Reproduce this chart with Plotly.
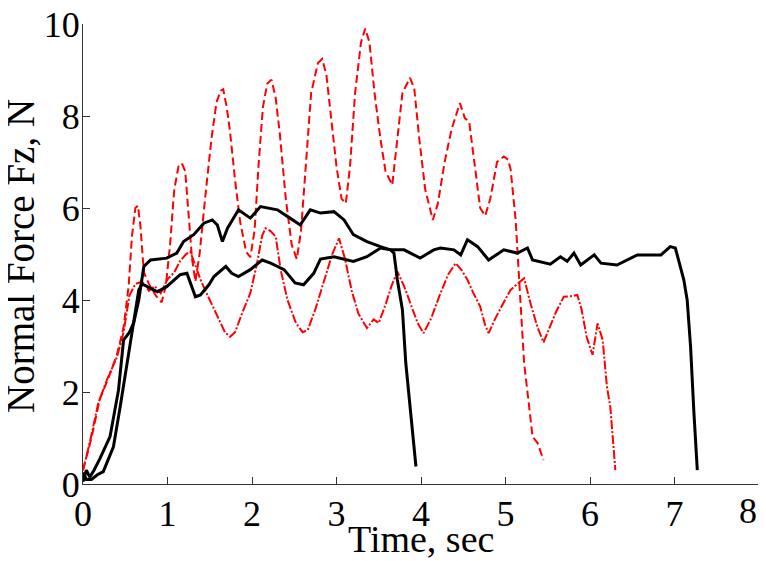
import plotly.graph_objects as go

# ---- data ----
red_big_t = [0.00, 0.10, 0.20, 0.30, 0.40, 0.48, 0.54, 0.58, 0.62, 0.65, 0.68, 0.72, 0.78, 0.86, 0.93,
             0.98, 1.03, 1.08, 1.13, 1.17, 1.21, 1.25, 1.29, 1.33, 1.38, 1.45, 1.52, 1.58, 1.63, 1.66,
             1.70, 1.74, 1.80, 1.86, 1.93, 1.98, 2.03, 2.08, 2.13, 2.18, 2.23, 2.28, 2.33, 2.40, 2.47,
             2.53, 2.58, 2.64, 2.70, 2.78, 2.83, 2.88, 2.94, 3.00, 3.06, 3.11, 3.16, 3.22, 3.29, 3.34,
             3.39, 3.45, 3.52, 3.58, 3.66, 3.72, 3.78, 3.87, 3.92, 3.98, 4.05, 4.14, 4.20, 4.28, 4.36,
             4.46, 4.52, 4.57, 4.64, 4.70, 4.76, 4.82, 4.90, 4.98, 5.03, 5.06, 5.12, 5.16, 5.19, 5.22,
             5.28, 5.32, 5.38, 5.45]
red_big_f = [0.30, 1.00, 1.85, 2.30, 2.80, 3.40, 4.30, 5.40, 6.00, 6.05, 5.60, 4.60, 4.35, 4.10, 3.95,
             4.30, 5.20, 6.40, 6.90, 6.97, 6.80, 5.80, 4.90, 4.40, 5.00, 6.30, 7.50, 8.30, 8.55, 8.58,
             8.20, 7.66, 6.60, 5.70, 5.05, 4.93, 5.50, 7.00, 8.20, 8.70, 8.79, 8.40, 7.60, 6.20, 5.20,
             4.89, 5.50, 7.00, 8.50, 9.15, 9.24, 8.90, 7.90, 6.90, 6.20, 6.10, 6.90, 8.50, 9.60, 9.90,
             9.60, 8.50, 7.50, 6.80, 6.50, 7.50, 8.50, 8.83, 8.60, 7.50, 6.40, 5.74, 6.10, 7.00, 7.70,
             8.28, 7.95, 7.88, 6.80, 6.00, 5.83, 6.20, 7.00, 7.12, 7.05, 6.85, 5.74, 4.45, 3.60, 2.63,
             1.68, 1.03, 0.89, 0.52]

red_small_t = [0.00, 0.08, 0.18, 0.28, 0.40, 0.48, 0.55, 0.62, 0.70, 0.78, 0.85, 0.92, 1.00, 1.08, 1.15,
               1.22, 1.27, 1.32, 1.40, 1.50, 1.60, 1.68, 1.74, 1.80, 1.88, 1.98, 2.06, 2.12, 2.16, 2.22,
               2.28, 2.34, 2.42, 2.52, 2.60, 2.66, 2.75, 2.85, 2.95, 3.03, 3.10, 3.18, 3.26, 3.36, 3.44,
               3.50, 3.58, 3.65, 3.72, 3.80, 3.88, 3.96, 4.03, 4.12, 4.22, 4.32, 4.41, 4.48, 4.55, 4.62,
               4.70, 4.76, 4.80, 4.88, 4.98, 5.06, 5.14, 5.22, 5.30, 5.38, 5.45, 5.52, 5.60, 5.69, 5.77,
               5.85, 5.90, 5.96, 6.03, 6.09, 6.15, 6.20, 6.24, 6.27, 6.30]
red_small_f = [0.30, 0.90, 1.75, 2.25, 2.75, 3.30, 4.10, 4.35, 4.40, 4.20, 4.30, 4.15, 4.45, 4.60, 4.85,
               5.00, 5.05, 4.80, 4.40, 4.00, 3.60, 3.30, 3.20, 3.30, 3.70, 4.15, 4.80, 5.40, 5.56, 5.50,
               5.38, 4.65, 4.00, 3.50, 3.30, 3.35, 3.80, 4.40, 5.00, 5.34, 4.90, 4.20, 3.70, 3.39, 3.58,
               3.50, 3.90, 4.30, 4.62, 4.30, 3.90, 3.50, 3.28, 3.60, 4.10, 4.55, 4.80, 4.65, 4.44, 4.15,
               3.86, 3.45, 3.28, 3.60, 3.95, 4.22, 4.35, 4.47, 3.90, 3.40, 3.08, 3.40, 3.75, 4.07, 4.08,
               4.11, 3.80, 3.20, 2.81, 3.49, 3.13, 2.12, 1.68, 1.00, 0.30]

black_long_t = [0.00, 0.04, 0.08, 0.13, 0.20, 0.32, 0.42, 0.48, 0.55, 0.60, 0.66, 0.72, 0.80, 0.99, 1.11,
                1.19, 1.31, 1.43, 1.53, 1.59, 1.65, 1.71, 1.84, 1.98, 2.10, 2.30, 2.45, 2.57, 2.69, 2.81,
                2.97, 3.09, 3.20, 3.36, 3.52, 3.64, 3.80, 3.99, 4.15, 4.23, 4.39, 4.47, 4.55, 4.67, 4.80,
                4.98, 5.14, 5.26, 5.32, 5.53, 5.65, 5.73, 5.81, 5.89, 6.05, 6.13, 6.32, 6.56, 6.84, 6.95,
                7.01, 7.11, 7.15, 7.19, 7.23, 7.27]
black_long_f = [0.05, 0.30, 0.15, 0.30, 0.55, 1.03, 2.04, 3.13, 3.30, 3.50, 4.00, 4.73, 4.87, 4.91, 5.02,
                5.27, 5.42, 5.67, 5.74, 5.63, 5.27, 5.56, 5.96, 5.78, 6.03, 5.96, 5.78, 5.63, 5.96, 5.89,
                5.92, 5.74, 5.42, 5.27, 5.16, 5.09, 5.09, 4.91, 5.09, 5.13, 5.09, 4.98, 5.31, 5.16, 4.87,
                5.09, 5.02, 5.13, 4.87, 4.78, 4.94, 4.84, 5.02, 4.76, 4.98, 4.80, 4.76, 4.98, 4.98, 5.16,
                5.13, 4.44, 4.00, 2.99, 1.54, 0.30]

black_short_t = [0.00, 0.04, 0.10, 0.17, 0.24, 0.36, 0.44, 0.52, 0.60, 0.66, 0.70, 0.76, 0.88, 0.99, 1.15,
                 1.23, 1.33, 1.39, 1.49, 1.55, 1.69, 1.76, 1.84, 1.98, 2.12, 2.22, 2.38, 2.51, 2.61, 2.73,
                 2.81, 2.97, 3.20, 3.36, 3.52, 3.64, 3.68, 3.72, 3.78, 3.82, 3.88, 3.94]
black_short_f = [0.25, 0.10, 0.10, 0.20, 0.27, 0.81, 1.68, 2.63, 3.50, 4.22, 4.35, 4.29, 4.18, 4.29, 4.55,
                 4.58, 4.07, 4.11, 4.33, 4.51, 4.73, 4.58, 4.51, 4.66, 4.87, 4.80, 4.66, 4.37, 4.33, 4.58,
                 4.89, 4.94, 4.84, 4.94, 5.13, 5.09, 5.02, 4.44, 3.79, 2.63, 1.54, 0.38]

x_ticks = [0, 1, 2, 3, 4, 5, 6, 7, 8]
y_ticks = [0, 2, 4, 6, 8, 10]
x_title = "Time, sec"
y_title = "Normal Force Fz, N"

FONT = "Liberation Serif, Times New Roman, serif"

# the last x label sits left of its tick in the reference (edge of the page),
# so it is drawn as a right-anchored annotation at that tick
x_ticktext = [str(v) for v in x_ticks[:-1]] + [""]

fig = go.Figure()
fig.add_trace(go.Scatter(x=red_big_t, y=red_big_f, mode="lines",
                         line=dict(color="#ff0000", width=2, dash="8px,4px"), name="red dashed"))
fig.add_trace(go.Scatter(x=red_small_t, y=red_small_f, mode="lines",
                         line=dict(color="#ff0000", width=2, dash="9px,2px,2px,2px"), name="red dash-dot"))
fig.add_trace(go.Scatter(x=black_long_t, y=black_long_f, mode="lines",
                         line=dict(color="#000000", width=3), name="black 1"))
fig.add_trace(go.Scatter(x=black_short_t, y=black_short_f, mode="lines",
                         line=dict(color="#000000", width=3), name="black 2"))

fig.update_layout(
    width=766, height=561,
    margin=dict(l=75, r=15, t=16, b=85, autoexpand=False),
    paper_bgcolor="white", plot_bgcolor="white",
    showlegend=False,
    font=dict(family=FONT, color="black", size=36),
    annotations=[
        dict(text=x_title, xref="paper", yref="paper", x=0.5, y=0, yshift=-78,
             xanchor="center", yanchor="bottom", showarrow=False,
             font=dict(family=FONT, size=38, color="black")),
        dict(text=y_title, xref="paper", yref="paper", x=0, y=0.5, xshift=-63, yshift=-2,
             xanchor="center", yanchor="middle", textangle=-90, showarrow=False,
             font=dict(family=FONT, size=39, color="black")),
        dict(text=str(x_ticks[-1]), xref="x", yref="paper", x=x_ticks[-1], y=0, yshift=-5,
             xanchor="right", yanchor="top", showarrow=False,
             font=dict(family=FONT, size=36, color="black")),
    ],
)
fig.update_xaxes(
    range=[0, 8], tickvals=x_ticks, ticktext=x_ticktext,
    showgrid=False, zeroline=False, showline=True, linecolor="#333333", linewidth=1,
    ticks="inside", ticklen=7, tickcolor="#333333", automargin=False,
    ticklabeloverflow="allow", ticklabelstandoff=-2,
    tickfont=dict(family=FONT, size=36, color="black"),
)
fig.update_yaxes(
    range=[0, 10], tickvals=y_ticks, ticktext=[str(v) for v in y_ticks],
    showgrid=False, zeroline=False, showline=True, linecolor="#333333", linewidth=1,
    ticks="inside", ticklen=7, tickcolor="#333333", automargin=False,
    ticklabeloverflow="allow", ticklabelstandoff=-5,
    tickfont=dict(family=FONT, size=36, color="black"),
)

fig.write_html("out.html")
